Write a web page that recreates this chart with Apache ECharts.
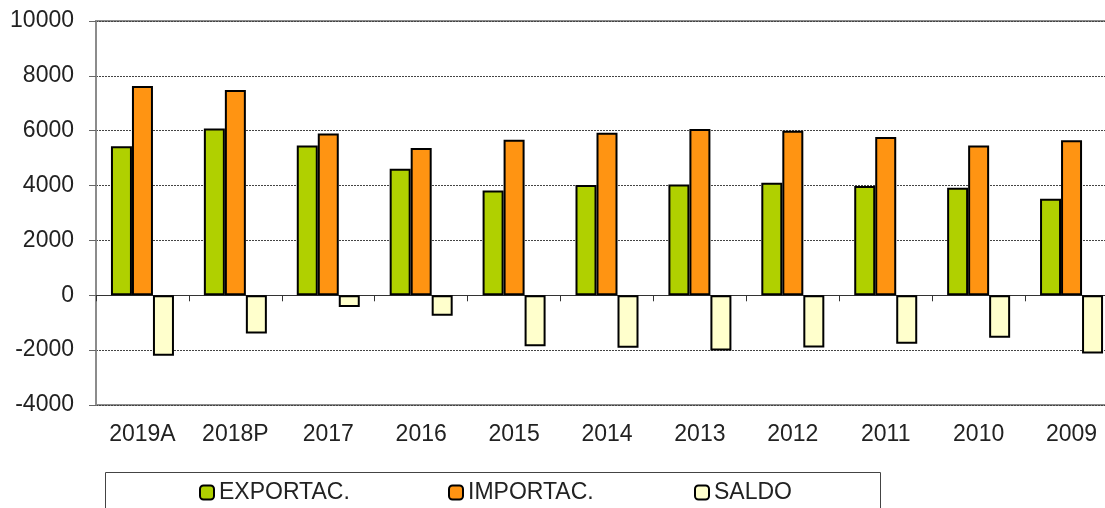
<!DOCTYPE html>
<html>
<head>
<meta charset="utf-8">
<script src="https://cdn.jsdelivr.net/npm/echarts@6/dist/echarts.min.js"></script>
<style>
  html, body { margin: 0; padding: 0; background: #fff; }
  #chart { width: 1105px; height: 508px; }
</style>
</head>
<body>
<div id="chart"></div>
<script>
const categories = ['2019A', '2018P', '2017', '2016', '2015', '2014', '2013', '2012', '2011', '2010', '2009']
const exportac = [5430, 6080, 5460, 4610, 3820, 4020, 4040, 4100, 3980, 3920, 3520]
const importac = [7630, 7480, 5900, 5370, 5670, 5930, 6060, 6000, 5770, 5460, 5650]
const saldo = [-2200, -1390, -430, -750, -1860, -1910, -2010, -1900, -1770, -1545, -2120]
const yTicks = { min: -4000, max: 10000, interval: 2000 }

const font = "'Liberation Sans', Arial, sans-serif"

const chart = echarts.init(document.getElementById('chart'))

function barSeries (name, data, color) {
  return {
    name: name,
    type: 'bar',
    data: data,
    xAxisIndex: 1,
    barWidth: 21,
    barGap: '0%',
    itemStyle: {
      color: color,
      borderColor: '#000',
      borderWidth: 2
    }
  }
}

function legendAt (name, left) {
  return {
    data: [name],
    left: left,
    top: 481,
    padding: 0,
    itemWidth: 14,
    itemHeight: 14,
    itemGap: 0,
    itemStyle: { borderColor: '#000', borderWidth: 2 },
    textStyle: { fontFamily: font, fontSize: 23, color: '#222' }
  }
}

const option = {
  animation: false,
  grid: {
    left: 96,
    top: 21,
    width: 1022,
    height: 384,
    outerBoundsMode: 'none',
    containLabel: false,
    show: true,
    borderColor: '#8c8c8c',
    borderWidth: 2
  },
  legend: [
    legendAt('EXPORTAC.', 199),
    legendAt('IMPORTAC.', 448),
    legendAt('SALDO', 694)
  ],
  graphic: [
    {
      type: 'rect',
      shape: { x: 105.5, y: 472.5, width: 775, height: 60 },
      style: { fill: 'none', stroke: '#444', lineWidth: 1 },
      z: -1
    }
  ],
  xAxis: [
    {
      // zero line with ticks between categories
      type: 'category',
      data: categories,
      position: 'top',
      axisLine: { onZero: true, lineStyle: { color: '#333', width: 1 } },
      axisTick: { show: true, inside: true, length: 6, lineStyle: { color: '#333' } },
      axisLabel: { show: false },
      splitLine: { show: false }
    },
    {
      // category labels under the plot
      type: 'category',
      data: categories,
      position: 'bottom',
      axisLine: { show: false, onZero: false },
      axisTick: { show: false },
      axisLabel: { margin: 18, fontFamily: font, fontSize: 23, color: '#222', interval: 0 },
      splitLine: { show: false }
    }
  ],
  yAxis: {
    type: 'value',
    min: yTicks.min,
    max: yTicks.max,
    interval: yTicks.interval,
    axisLine: { show: true, lineStyle: { color: '#8c8c8c', width: 2 } },
    axisTick: { show: true, length: 7, lineStyle: { color: '#666' } },
    axisLabel: {
      margin: 22,
      fontFamily: font,
      fontSize: 23,
      color: '#222',
      formatter: v => String(v)
    },
    splitLine: { show: true, lineStyle: { color: '#444', type: [2, 1], width: 1 } }
  },
  series: [
    barSeries('EXPORTAC.', exportac, '#b0d000'),
    barSeries('IMPORTAC.', importac, '#ff9412'),
    barSeries('SALDO', saldo, '#ffffcc')
  ]
}

chart.setOption(option)
</script>
</body>
</html>
